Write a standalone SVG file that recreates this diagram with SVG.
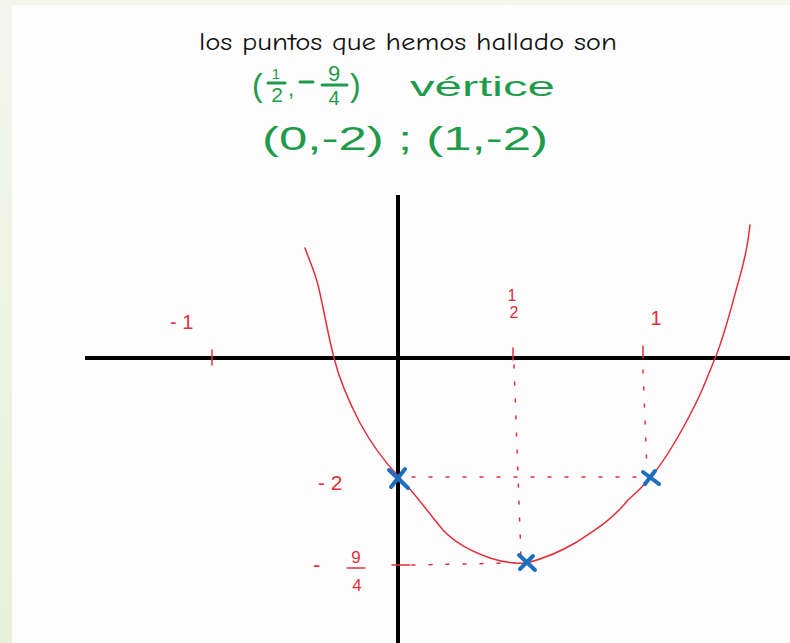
<svg xmlns="http://www.w3.org/2000/svg" width="790" height="643" viewBox="0 0 790 643">
<style>
.hw{font-family:"Comic Neue","Liberation Sans","DejaVu Sans",sans-serif}
.green{fill:#1f9b4c;font-family:"Liberation Sans","DejaVu Sans",sans-serif}
.gbar{stroke:#1f9b4c;stroke-width:3;stroke-linecap:round}
.red{fill:#e0303c;font-family:"Liberation Sans","DejaVu Sans",sans-serif}
.redl{stroke:#e0303c;stroke-width:1.5;fill:none;stroke-linecap:round}
.dash{stroke:#e0303c;stroke-width:1.5;fill:none;stroke-dasharray:3 14;stroke-linecap:round}
.axis{stroke:#000;stroke-width:4;fill:none}
.mark{stroke:#1c6fc0;stroke-width:4;stroke-linecap:round;fill:none}
</style>
<defs>
<linearGradient id="bg" x1="0" y1="0" x2="0" y2="1">
<stop offset="0" stop-color="#f4f6ee"/>
<stop offset="1" stop-color="#e9efd9"/>
</linearGradient>
</defs>
<rect x="0" y="0" width="790" height="643" fill="url(#bg)"/>
<rect x="12" y="5" width="778" height="638" fill="#fdfdfd"/>

<g id="title">
<text x="408" y="50" font-size="25" text-anchor="middle" class="hw" fill="#111" textLength="418" lengthAdjust="spacingAndGlyphs">los puntos que hemos hallado son</text>
</g>

<g id="vertex-text">
<text x="252" y="96" font-size="32" class="green">(</text>
<text x="276" y="79" font-size="15" class="green" text-anchor="middle">1</text>
<line x1="268" y1="83" x2="285" y2="83" class="gbar"/>
<text x="277" y="102" font-size="21" class="green" text-anchor="middle">2</text>
<text x="288" y="96" font-size="22" class="green">,</text>
<line x1="300" y1="82" x2="313" y2="82" class="gbar"/>
<text x="334" y="81" font-size="22" class="green" text-anchor="middle">9</text>
<line x1="322" y1="85" x2="347" y2="85" class="gbar"/>
<text x="334" y="105" font-size="20" class="green" text-anchor="middle">4</text>
<text x="350" y="96" font-size="32" class="green">)</text>
<text x="410" y="96" font-size="28" class="green" textLength="145" lengthAdjust="spacingAndGlyphs">vértice</text>
</g>

<g id="points-text">
<text x="262" y="150" font-size="34" class="green" textLength="286" lengthAdjust="spacingAndGlyphs">(0,-2) ; (1,-2)</text>
</g>

<g id="axes">
<line x1="85" y1="358" x2="790" y2="358" class="axis"/>
<line x1="398" y1="195" x2="398" y2="643" class="axis"/>
</g>

<g id="ticks">
<line x1="212" y1="350" x2="212" y2="365" class="redl"/>
<line x1="513" y1="348" x2="513" y2="360" class="redl"/>
<line x1="643" y1="346" x2="643" y2="358" class="redl"/>
<line x1="392" y1="565" x2="410" y2="565" class="redl"/>
</g>

<g id="labels">
<text x="170" y="329" font-size="20" class="red">- 1</text>
<text x="512" y="301" font-size="16" class="red" text-anchor="middle">1</text>
<text x="514" y="318" font-size="16" class="red" text-anchor="middle">2</text>
<text x="656" y="325" font-size="20" class="red" text-anchor="middle">1</text>
<text x="318" y="490" font-size="21" class="red">- 2</text>
<text x="313" y="572" font-size="22" class="red">-</text>
<text x="356" y="563" font-size="17" class="red" text-anchor="middle">9</text>
<line x1="347" y1="568" x2="365" y2="568" class="redl"/>
<text x="357" y="591" font-size="17" class="red" text-anchor="middle">4</text>
</g>

<g id="guides">
<line x1="514" y1="365" x2="521" y2="558" class="dash"/>
<line x1="643" y1="370" x2="647" y2="470" class="dash"/>
<line x1="412" y1="477" x2="640" y2="477" class="dash"/>
<line x1="412" y1="565" x2="515" y2="563" class="dash"/>
</g>

<g id="parabola">
<path class="redl" d="M305,248 C310,262 314,270 318,285 C323,305 328,335 334,358 C340,382 348,400 360,423 C372,445 385,462 398,476 C415,493 430,515 443,530 C455,543 470,551 490,558 C505,563 515,564 527,563 C545,558 560,552 575,543 C595,530 612,520 628,500 C640,490 645,484 651,477 C665,460 680,435 695,405 C705,385 710,370 716,356 C725,333 732,305 738,283 C745,260 748,245 750,225"/>
</g>

<g id="points">
<g id="p1"><path class="mark" d="M389,470 L408,488 M391,487 L405,469"/></g>
<g id="p2"><path class="mark" d="M519,555 L535,570 M520,569 L533,556"/></g>
<g id="p3"><path class="mark" d="M643,472 L659,484 M645,484 L655,471"/></g>
</g>
</svg>
